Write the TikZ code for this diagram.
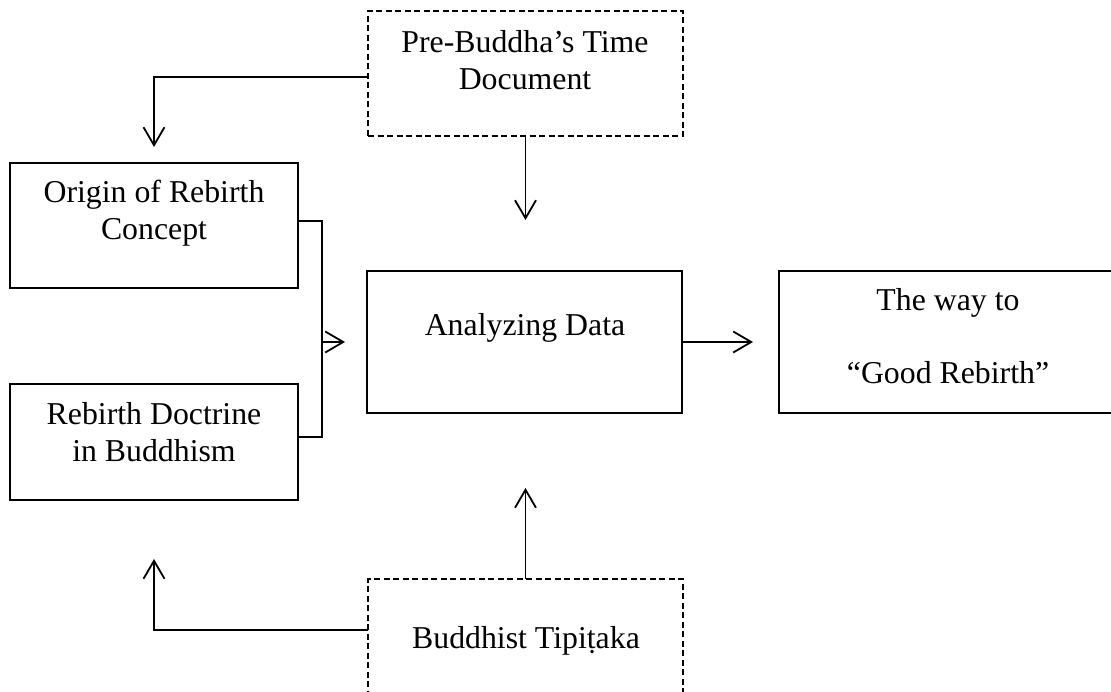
\documentclass[tikz,border=0pt]{standalone}
\usepackage{fontspec}
\setmainfont{Liberation Serif}
\usetikzlibrary{arrows.meta,calc}
\tikzset{
  boxsolid/.style={draw, line width=1.8pt, inner sep=0pt, outer sep=0pt},
  boxdash/.style={boxsolid, dash pattern=on 6pt off 3.5pt},
  txt/.style={align=center, inner sep=0pt, font=\fontsize{31.8}{37}\selectfont},
  conn/.style={line width=1.8pt},
  arr/.style={conn, -{Straight Barb[length=18pt,width=21pt,line width=1.8pt]}}
}
\begin{document}
\begin{tikzpicture}[x=1pt,y=-1pt]
\useasboundingbox (0,0) rectangle (1111,692);
\clip (0,0) rectangle (1111,692);
% boxes
\node[boxdash, minimum width=315pt, minimum height=125pt] (pre) at (525.5,73.5) {};
\node[boxsolid, minimum width=288pt, minimum height=125pt] (origin) at (154,225.5) {};
\node[boxsolid, minimum width=288pt, minimum height=116pt] (rebirth) at (154,442) {};
\node[boxsolid, minimum width=315pt, minimum height=142pt] (analyzing) at (524.5,342) {};
\node[boxsolid, minimum width=338pt, minimum height=142pt] (good) at (948,342) {};
\node[boxdash, minimum width=315pt, minimum height=123pt] (buddhist) at (525.5,640.5) {};
% texts
\node[txt] (pret) at (525,60.5) {Pre-Buddha’s Time\\Document};
\node[txt] (origint) at (154,213) {Origin of Rebirth\\Concept};
\node[txt] (rebirtht) at (154,432.5) {Rebirth Doctrine\\in Buddhism};
\node[txt] (analyzingt) at (525,328) {Analyzing Data};
\node[txt, font=\fontsize{31.8}{73}\selectfont] (goodt) at (948,336.5) {The way to\\“Good Rebirth”};
\node[txt] (buddhistt) at (526,641) {Buddhist Tipiṭaka};
% connectors
\coordinate (merge) at (322,342);
\draw[conn] ([yshift=4.5pt]origin.east) -| (merge);
\draw[conn] ([yshift=5pt]rebirth.east) -| (merge);
\draw[arr, shorten >=22pt] (merge) -- (analyzing.west);
\draw[arr, shorten >=16pt] ([yshift=-3.5pt]pre.west) -| (origin.north);
\draw[arr, shorten >=51pt] (pre.south) -- (pre.south |- analyzing.north);
\draw[arr, shorten >=75pt] (buddhist.north) -- (buddhist.north |- analyzing.south);
\draw[arr, shorten >=59pt] ([yshift=10.5pt]buddhist.west) -| (rebirth.south);
\draw[arr, shorten >=26pt] (analyzing.east) -- (good.west);
\end{tikzpicture}
\end{document}
